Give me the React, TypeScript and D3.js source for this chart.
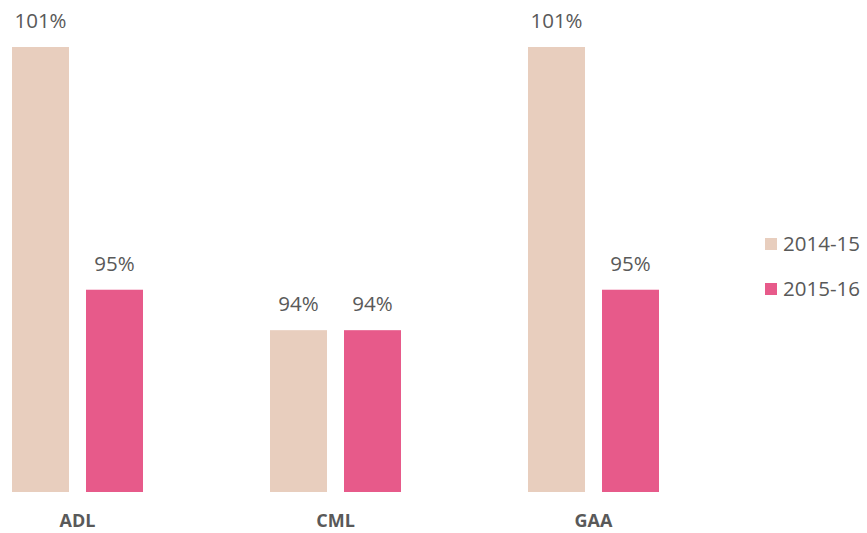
import React from "react";
import * as d3 from "d3";

const categories = ["ADL", "CML", "GAA"];
const seriesNames = ["2014-15", "2015-16"];
const values2014 = [101, 94, 101];
const values2015 = [95, 94, 95];
const colors = ["#E8CEBE", "#E75A8A"];

const W = 867;
const H = 533;

export default function App() {
  const x0 = d3.scaleBand<string>().domain(categories).range([12, 659]).paddingInner(127 / 258).paddingOuter(0);
  const x1 = d3.scaleBand<string>().domain(seriesNames).range([0, x0.bandwidth()]).paddingInner(17 / 74).paddingOuter(0);
  const y = d3.scaleLinear().domain([90, 101]).range([492, 47]);
  const series = [values2014, values2015];
  const textColor = "#595959";
  const font = "'Open Sans', 'Liberation Sans', sans-serif";

  return (
    <svg width={W} height={H} style={{ position: "absolute", left: 0, top: 0, background: "#fff" }} fontFamily={font}>
      {categories.map((c, ci) => (
        <g key={c} transform={`translate(${x0(c)},0)`}>
          {seriesNames.map((s, si) => {
            const v = series[si][ci];
            const bx = x1(s)!;
            return (
              <g key={s}>
                <rect x={bx} y={y(v)} width={x1.bandwidth()} height={y(90) - y(v)} fill={colors[si]} />
                <text x={bx + x1.bandwidth() / 2} y={y(v) - 19} textAnchor="middle" fontSize={20.5} fill={textColor}>
                  {v}%
                </text>
              </g>
            );
          })}
          <text x={x0.bandwidth() / 2} y={527} textAnchor="middle" fontSize={18} fontWeight="bold" fill={textColor}>
            {c}
          </text>
        </g>
      ))}
      {seriesNames.map((s, si) => (
        <g key={s} transform={`translate(765,${238 + si * 45})`}>
          <rect x={0} y={0} width={12} height={12} fill={colors[si]} />
          <text x={18} y={12.5} fontSize={20.5} fill={textColor}>
            {s}
          </text>
        </g>
      ))}
    </svg>
  );
}
